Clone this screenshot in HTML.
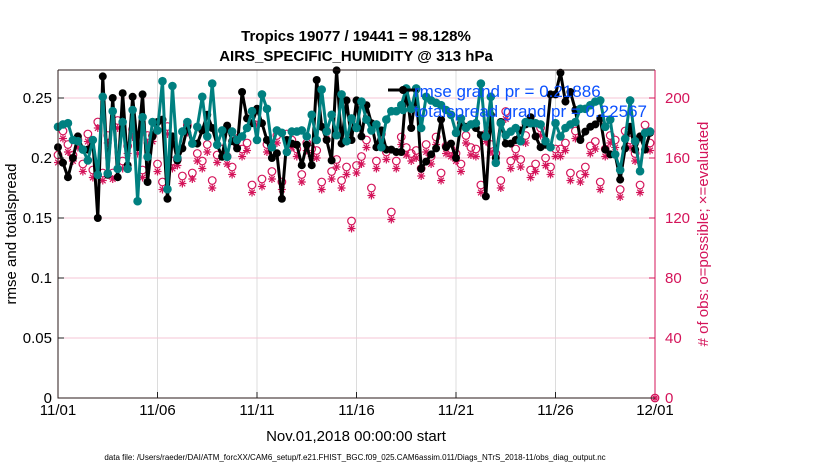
<!DOCTYPE html>
<html><head><meta charset="utf-8"><style>
body{margin:0;background:#fff;}
svg{display:block;font-family:"Liberation Sans",Arial,sans-serif;}
</style></head><body>
<svg id="chart" width="830" height="470" xmlns="http://www.w3.org/2000/svg">
<rect width="830" height="470" fill="#fff"/>
<g id="grid"></g>
<g id="marks"></g>
<g id="axes"></g>
<text x="356" y="41" font-size="15" font-weight="bold" text-anchor="middle">Tropics 19077 / 19441 = 98.128%</text>
<text x="356" y="61" font-size="15" font-weight="bold" text-anchor="middle">AIRS_SPECIFIC_HUMIDITY @ 313 hPa</text>
<text transform="translate(16,234) rotate(-90)" font-size="15" text-anchor="middle">rmse and totalspread</text>
<text transform="translate(708,234) rotate(-90)" font-size="15" text-anchor="middle" fill="#d4145a"># of obs: o=possible; ×=evaluated</text>
<text x="356" y="441" font-size="15" text-anchor="middle">Nov.01,2018 00:00:00 start</text>
<text x="355" y="460" font-size="8" text-anchor="middle">data file: /Users/raeder/DAI/ATM_forcXX/CAM6_setup/f.e21.FHIST_BGC.f09_025.CAM6assim.011/Diags_NTrS_2018-11/obs_diag_output.nc</text>
</svg>
<script>
const xTickLabels=["11/01","11/06","11/11","11/16","11/21","11/26","12/01"];
const xTickDays=[0,5,10,15,20,25,30];
const yTickLabels=["0","0.05","0.1","0.15","0.2","0.25"];
const yTickValues=[0,0.05,0.1,0.15,0.2,0.25];
const y2TickValues=[0,40,80,120,160,200];
const rmse=[0.209,0.196,0.184,0.2,0.218,0.207,0.207,0.215,0.15,0.268,0.186,0.25,0.184,0.254,0.194,0.251,0.209,0.253,0.18,0.218,0.23,0.232,0.166,0.218,0.198,0.208,0.226,0.212,0.212,0.223,
0.236,0.225,0.211,0.201,0.227,0.214,0.208,0.255,0.233,0.229,0.241,0.229,0.215,0.2,0.204,0.166,0.215,0.212,0.211,0.194,0.211,0.194,0.265,0.226,0.215,0.198,0.273,0.212,0.248,0.215,
0.248,0.218,0.244,0.229,0.209,0.223,0.207,0.207,0.205,0.205,0.257,0.225,0.257,0.191,0.197,0.203,0.208,0.232,0.209,0.212,0.2,0.229,0.226,0.228,0.225,0.219,0.168,0.236,0.2,0.23,
0.212,0.212,0.215,0.223,0.228,0.234,0.218,0.209,0.211,0.253,0.253,0.271,0.247,0.255,0.24,0.215,0.222,0.226,0.228,0.233,0.207,0.203,0.203,0.182,0.208,0.226,0.207,0.218,0.207,0.221];
const spread=[0.226,0.228,0.229,0.215,0.214,0.207,0.198,0.215,0.186,0.251,0.187,0.239,0.191,0.23,0.191,0.24,0.164,0.234,0.201,0.23,0.223,0.264,0.174,0.26,0.2,0.222,0.23,0.212,0.226,0.251,
0.218,0.262,0.211,0.223,0.201,0.222,0.215,0.218,0.225,0.239,0.215,0.253,0.241,0.209,0.223,0.221,0.205,0.222,0.222,0.223,0.218,0.236,0.215,0.257,0.222,0.236,0.219,0.253,0.214,0.233,
0.225,0.247,0.232,0.223,0.228,0.209,0.232,0.239,0.239,0.244,0.258,0.241,0.258,0.225,0.251,0.248,0.246,0.244,0.24,0.236,0.221,0.233,0.225,0.228,0.229,0.262,0.218,0.251,0.196,0.229,
0.219,0.222,0.225,0.214,0.23,0.229,0.229,0.228,0.214,0.209,0.229,0.218,0.225,0.228,0.23,0.241,0.241,0.244,0.247,0.248,0.226,0.232,0.203,0.19,0.216,0.248,0.214,0.189,0.221,0.222];
const possible=[162,178,169,162,172,156,176,152,184,150,175,150,185,158,168,179,168,152,175,175,156,144,181,158,159,148,182,150,163,158,
169,145,162,166,161,154,173,166,170,142,187,146,169,151,175,144,176,172,166,149,170,166,165,144,178,151,159,145,154,118,
155,161,172,140,158,176,164,124,158,174,167,163,165,153,169,161,174,150,168,166,163,156,175,167,166,142,176,169,163,145,
191,158,166,159,175,152,156,180,160,154,166,166,170,150,178,149,154,168,171,144,166,175,172,139,178,172,163,142,182,170,0];
const evaluated=[157,173,164,158,167,151,171,147,180,145,170,146,180,153,163,174,163,147,170,171,151,139,176,153,155,143,177,146,158,153,
164,140,157,162,156,149,168,161,165,137,182,141,164,146,170,139,171,167,161,144,165,161,160,139,173,146,154,140,149,113,
150,156,167,135,153,171,159,119,153,169,162,158,160,148,164,156,169,145,163,161,158,151,170,162,161,137,171,164,158,140,
186,153,161,154,170,147,151,175,155,149,161,161,165,145,173,144,149,163,166,139,161,170,167,134,173,167,158,137,177,165,0];

const NS="http://www.w3.org/2000/svg";
const L=58,R=655,T=70,B=398;
const xs=d=>L+(d/30)*(R-L);
const ys=v=>B-v*1200;
const ys2=v=>B-v*1.5;
function mk(tag,parent,attrs){const e=document.createElementNS(NS,tag);for(const k in attrs)e.setAttribute(k,attrs[k]);parent.appendChild(e);return e;}
const grid=document.getElementById('grid'),marks=document.getElementById('marks'),axes=document.getElementById('axes');
xTickDays.forEach((d,i)=>{
 if(i>0&&i<xTickDays.length-1){const g=mk('line',grid,{x1:xs(d),x2:xs(d),y1:T,y2:B,stroke:'#dcdcdc','stroke-width':1});
 
 }
 const t=mk('line',axes,{x1:xs(d),x2:xs(d),y1:B,y2:B-6,stroke:'#222'});
 
 
 const l=mk('text',axes,{x:xs(d),y:B+17,'font-size':15,'text-anchor':'middle'});l.textContent=xTickLabels[i];
 
 
});
y2TickValues.forEach(v=>{
 const g=mk('line',grid,{x1:L,x2:R,y1:ys2(v),y2:ys2(v),stroke:'#f4c6d6','stroke-width':1});
 
 
 const t=mk('line',axes,{x1:R,x2:R-6,y1:ys2(v),y2:ys2(v),stroke:'#d4145a'});
 
 
 const l=mk('text',axes,{x:R+10,y:ys2(v)+5,'font-size':15,fill:'#d4145a'});l.textContent=v;
 
 
});
yTickValues.forEach((v,i)=>{
 const t=mk('line',axes,{x1:L,x2:L+6,y1:ys(v),y2:ys(v),stroke:'#222'});
 
 
 const l=mk('text',axes,{x:L-6,y:ys(v)+5,'font-size':15,'text-anchor':'end'});l.textContent=yTickLabels[i];
 
 
});
const box=mk('path',axes,{d:`M${L},${T}H${R}M${L},${T}V${B}H${R}`,fill:'none',stroke:'#2a1a1a','stroke-width':1});


const rax=mk('line',axes,{x1:R,x2:R,y1:T,y2:B,stroke:'#d4145a','stroke-width':1});


const dt=i=>i*0.25;
function star(g,x,y,c){const r=4;for(let k=0;k<4;k++){const a=k*Math.PI/4;mk('line',g,{x1:x-r*Math.cos(a),y1:y-r*Math.sin(a),x2:x+r*Math.cos(a),y2:y+r*Math.sin(a),stroke:c,'stroke-width':1.2});}}
const pg=mk('g',marks,{});


possible.forEach((v,i)=>{const c=mk('circle',pg,{cx:xs(dt(i)),cy:ys2(v),r:3.8,fill:'none',stroke:'#d4145a','stroke-width':1.2});
 
 });
const eg=mk('g',marks,{});


evaluated.forEach((v,i)=>star(eg,xs(dt(i)),ys2(v),'#d4145a'));
function series(arr,color,r,name){
 const g=mk('g',marks,{});
 
 
 mk('polyline',g,{points:arr.map((v,i)=>xs(dt(i))+','+ys(v)).join(' '),fill:'none',stroke:color,'stroke-width':3,'stroke-linejoin':'round'});
 arr.forEach((v,i)=>{const c=mk('circle',g,{cx:xs(dt(i)),cy:ys(v),r:r,fill:color});
 
 });
}
series(rmse,'#000',4,'rmse-series');
series(spread,'#008080',4.3,'totalspread-series');
const lg=mk('g',marks,{});


mk('line',lg,{x1:388,x2:418,y1:90,y2:90,stroke:'#000','stroke-width':3});
mk('circle',lg,{cx:403,cy:90,r:4,fill:'#000'});
mk('line',lg,{x1:388,x2:418,y1:110,y2:110,stroke:'#008080','stroke-width':3});
mk('circle',lg,{cx:403,cy:110,r:4.3,fill:'#008080'});
const t1=mk('text',lg,{x:414,y:97,'font-size':17,fill:'#0a50ff'});t1.textContent='rmse grand pr = 0.21886';


const t2=mk('text',lg,{x:414,y:117,'font-size':17,fill:'#0a50ff'});t2.textContent='totalspread grand pr = 0.22567';


</script>
</body></html>
